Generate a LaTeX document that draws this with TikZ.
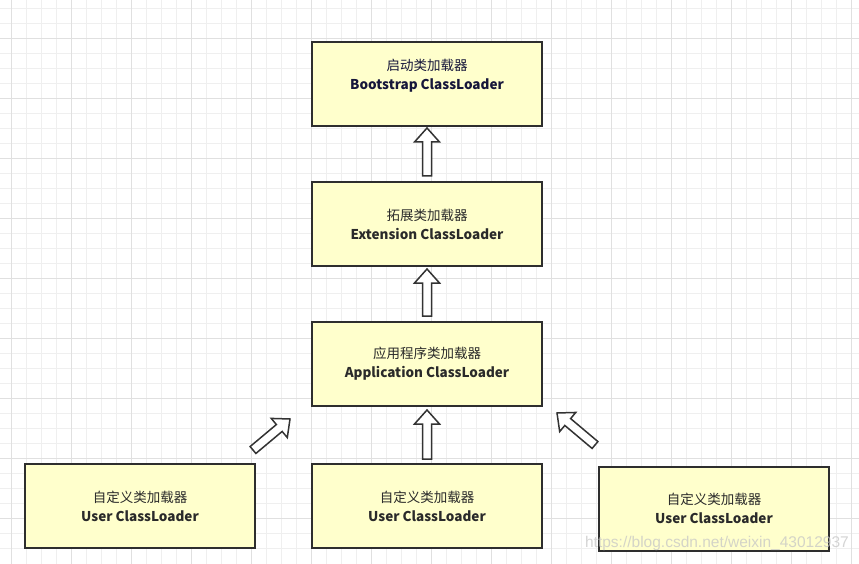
\documentclass[tikz,border=0pt]{standalone}
\usepackage{fontspec}
\setmainfont{Noto Sans CJK SC}
\newfontfamily\wmfont{Liberation Sans}
\usetikzlibrary{calc}
\definecolor{boxfill}{HTML}{FFFFCC}
\definecolor{boxline}{HTML}{2E2E2E}
\definecolor{textc}{HTML}{2A2A2A}
\definecolor{navytext}{HTML}{16163A}
\definecolor{arrline}{HTML}{333333}
\definecolor{gridminor}{HTML}{EFEFEF}
\definecolor{gridmajor}{HTML}{E0E0E0}
\newcommand\blockarrow[2]{%
  \coordinate (hb) at ($(#2)!14pt!(#1)$);
  \draw[barrow] ($(#1)!4.5pt!90:(#2)$) -- ($(hb)!4.5pt!90:(#2)$) -- ($(hb)!12.5pt!90:(#2)$) -- (#2)
    -- ($(hb)!12.5pt!-90:(#2)$) -- ($(hb)!4.5pt!-90:(#2)$) -- ($(#1)!4.5pt!-90:(#2)$) -- cycle;}
\begin{document}
\begin{tikzpicture}[x=1pt,y=-1pt,
  box/.style={draw=boxline, line width=2pt, fill=boxfill, minimum width=230pt, minimum height=84pt,
    align=center, inner sep=0pt, text=textc, font=\fontsize{13.5}{19}\selectfont},
  barrow/.style={draw=arrline, line width=1.5pt, fill=white, line join=miter},
  minorline/.style={draw=gridminor, line width=1pt},
  majorline/.style={draw=gridmajor, line width=1pt}]
\fill[white] (0,0) rectangle (859,564);
\useasboundingbox (0,0) rectangle (859,564);
\foreach \x in {11,26,...,851} \draw[minorline] (\x,0) -- (\x,564);
\foreach \y in {8.3,23.3,...,560} \draw[minorline] (0,\y) -- (859,\y);
\foreach \x in {11,71,...,851} \draw[majorline] (\x,0) -- (\x,564);
\foreach \y in {38.3,98.3,...,560} \draw[majorline] (0,\y) -- (859,\y);

\node[box, text=navytext] (boot) at (427,84) {启动类加载器\\\textbf{Bootstrap ClassLoader}\\\mbox{}};
\node[box] (ext) at (427,224) {拓展类加载器\\\textbf{Extension ClassLoader}};
\node[box] (app) at (427,364) {应用程序类加载器\\\textbf{Application ClassLoader}};
\node[box] (u1) at (140,506) {自定义类加载器\\\textbf{User ClassLoader}};
\node[box] (u2) at (427,506) {自定义类加载器\\\textbf{User ClassLoader}};
\node[box] (u3) at (714,508.5) {自定义类加载器\\\textbf{User ClassLoader}};

\coordinate (a1t) at (427,176); \coordinate (a1h) at (427,128);
\coordinate (a2t) at (427,316); \coordinate (a2h) at (427,269);
\coordinate (a3t) at (427,459); \coordinate (a3h) at (427,410);
\coordinate (a4t) at (253,450); \coordinate (a4h) at (290,419);
\coordinate (a5t) at (595,445); \coordinate (a5h) at (557,413);
\blockarrow{a1t}{a1h}
\blockarrow{a2t}{a2h}
\blockarrow{a3t}{a3h}
\blockarrow{a4t}{a4h}
\blockarrow{a5t}{a5h}

\node[anchor=east, inner sep=0pt, text=gray!45, opacity=0.75, font=\wmfont\fontsize{15.5}{18}\selectfont] (wm) at (849,543) {https://blog.csdn.net/weixin\_43012937};
\end{tikzpicture}
\end{document}
